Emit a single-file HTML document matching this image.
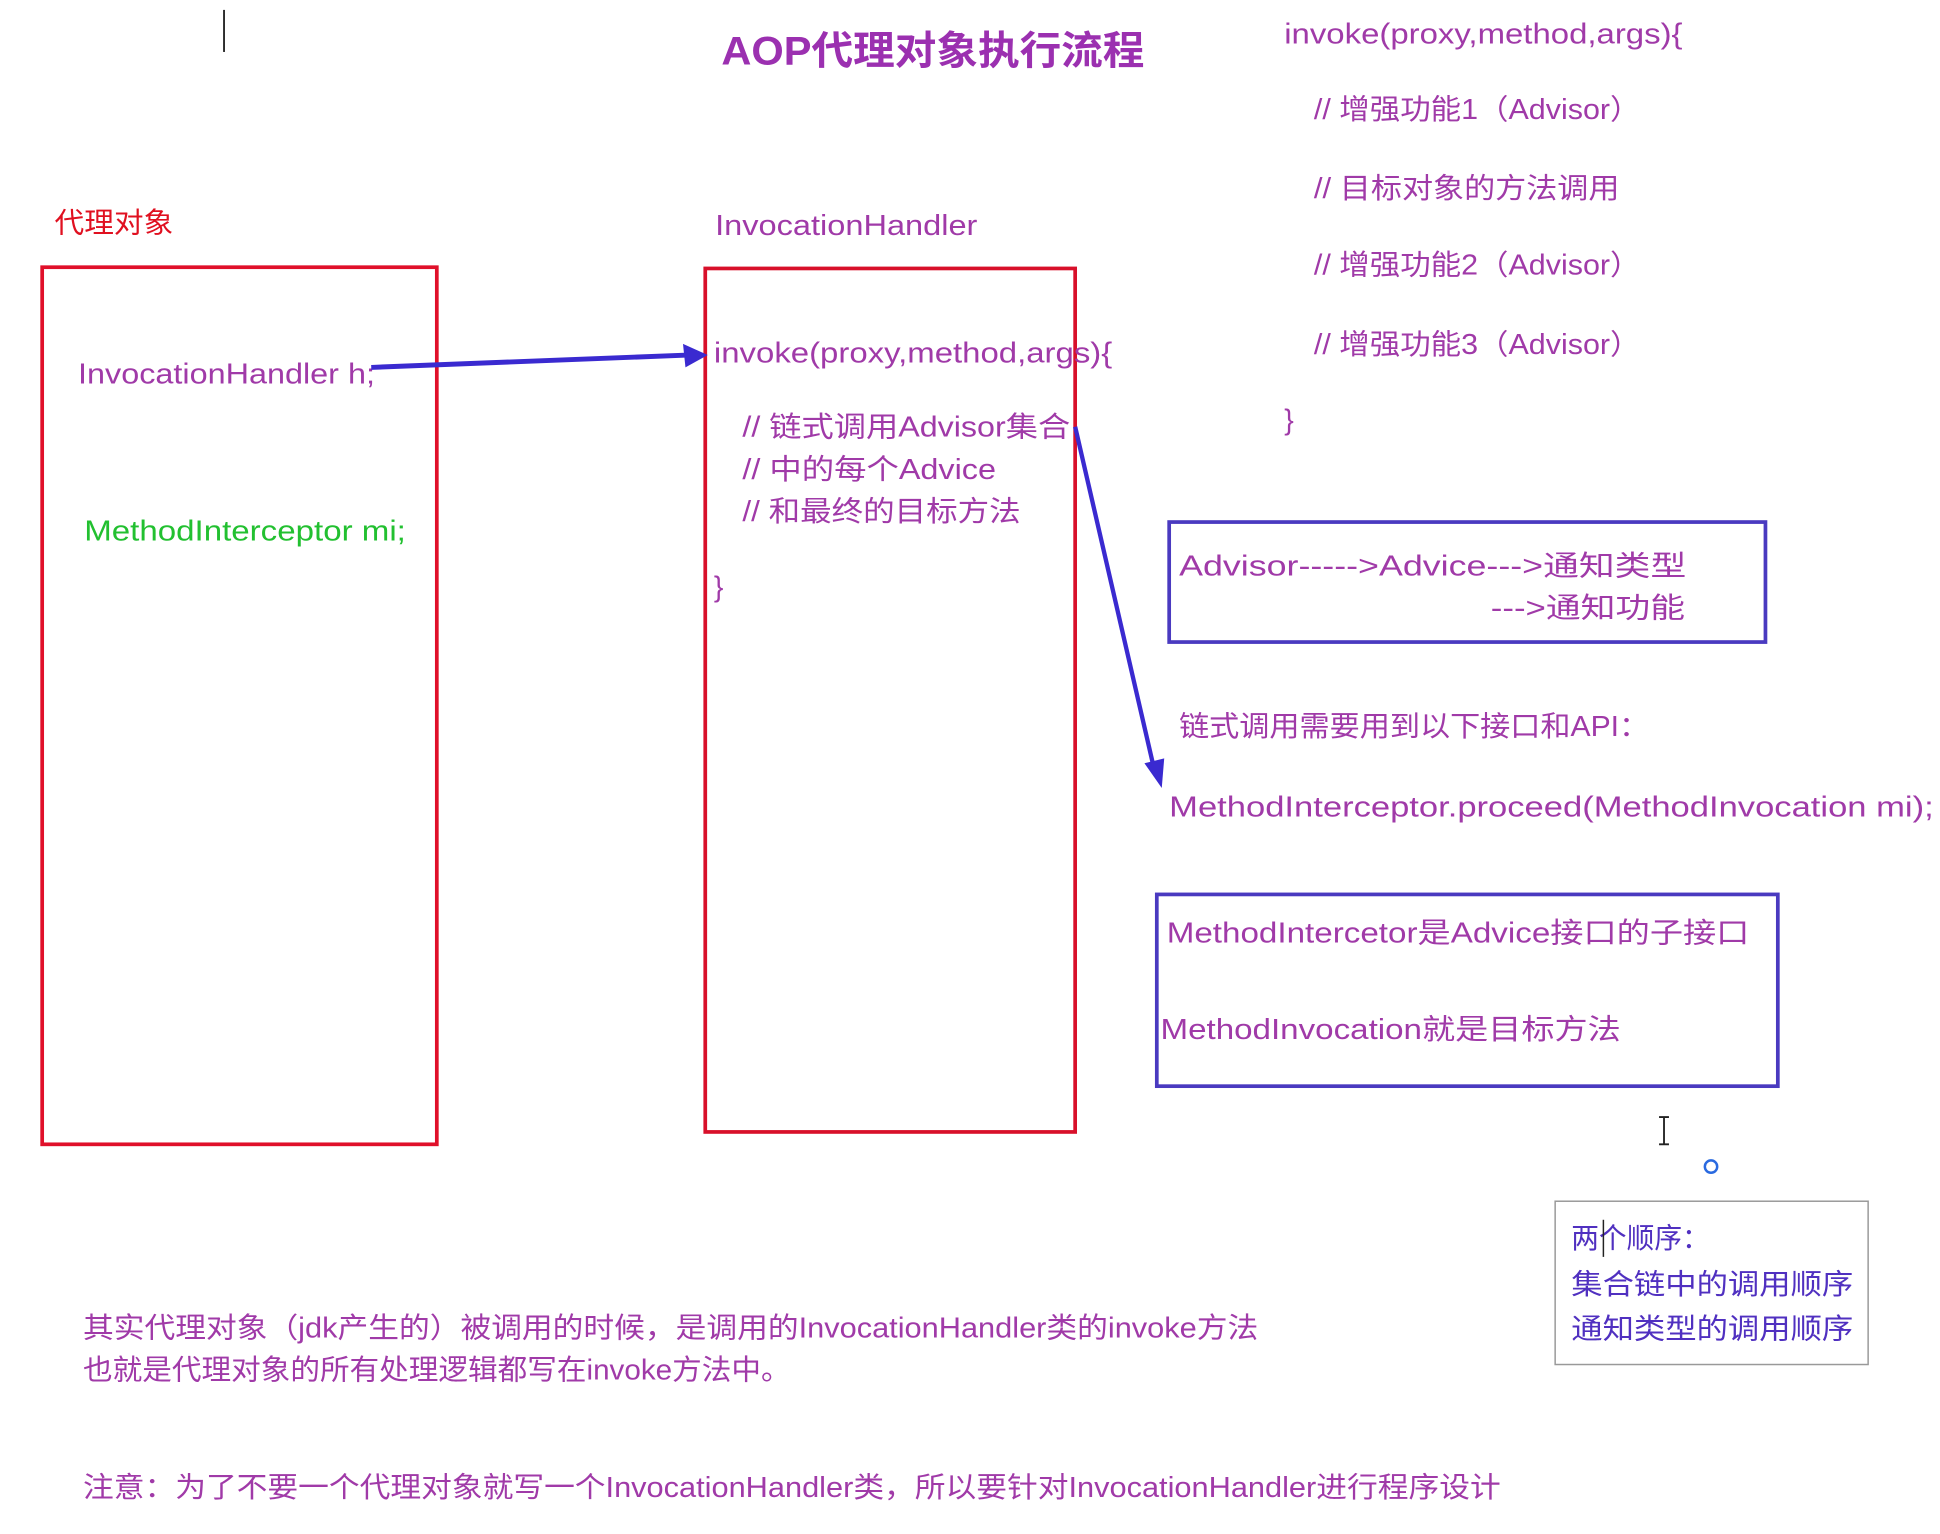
<!DOCTYPE html>
<html><head><meta charset="utf-8"><style>
html,body{margin:0;padding:0;background:#fff;}
svg{display:block}
text{font-family:"Liberation Sans","Noto Sans CJK SC",sans-serif;font-size:23px;fill:#a03aa8}
</style></head><body>
<svg width="1940" height="1534" viewBox="0 0 1568 1240" xmlns="http://www.w3.org/2000/svg">
<line x1="181" y1="8" x2="181" y2="42" stroke="#222" stroke-width="1.5"/>
<text x="583" y="52" style="font-size:32px;font-weight:bold;fill:#9b30b0" textLength="342" lengthAdjust="spacingAndGlyphs">AOP代理对象执行流程</text>

<text x="1038" y="35" textLength="322" lengthAdjust="spacingAndGlyphs">invoke(proxy,method,args){</text>
<text x="1062" y="96" textLength="264" lengthAdjust="spacingAndGlyphs">// 增强功能1（Advisor）</text>
<text x="1062" y="160" textLength="247" lengthAdjust="spacingAndGlyphs">// 目标对象的方法调用</text>
<text x="1062" y="222" textLength="264" lengthAdjust="spacingAndGlyphs">// 增强功能2（Advisor）</text>
<text x="1062" y="286" textLength="264" lengthAdjust="spacingAndGlyphs">// 增强功能3（Advisor）</text>
<text x="1038" y="347">}</text>

<text x="44" y="188" style="fill:#e01020" textLength="96" lengthAdjust="spacingAndGlyphs">代理对象</text>
<text x="578" y="190" textLength="212" lengthAdjust="spacingAndGlyphs">InvocationHandler</text>

<rect x="34" y="216" width="319" height="709" fill="none" stroke="#e0102a" stroke-width="3"/>
<rect x="570" y="217" width="299" height="698" fill="none" stroke="#d8102a" stroke-width="3"/>

<text x="63" y="310" textLength="240" lengthAdjust="spacingAndGlyphs">InvocationHandler h;</text>
<text x="68" y="437" style="fill:#22c030" textLength="260" lengthAdjust="spacingAndGlyphs">MethodInterceptor mi;</text>

<text x="577" y="293" textLength="322" lengthAdjust="spacingAndGlyphs">invoke(proxy,method,args){</text>
<text x="600" y="353" textLength="265" lengthAdjust="spacingAndGlyphs">// 链式调用Advisor集合</text>
<text x="600" y="387" textLength="205" lengthAdjust="spacingAndGlyphs">// 中的每个Advice</text>
<text x="600" y="421" textLength="225" lengthAdjust="spacingAndGlyphs">// 和最终的目标方法</text>
<text x="577" y="482">}</text>

<path d="M300 297 L556 287" stroke="#3a2ad0" stroke-width="4" fill="none"/>
<polygon points="572,287 552,278 554,297" fill="#3a2ad0"/>
<path d="M869 345 L932 618" stroke="#3a2ad0" stroke-width="3.5" fill="none"/>
<polygon points="939,637 925,617 941,613" fill="#3a2ad0"/>

<rect x="945" y="422" width="482" height="97" fill="none" stroke="#4a3ac0" stroke-width="3"/>
<text x="953" y="465" textLength="410" lengthAdjust="spacingAndGlyphs">Advisor-----&gt;Advice---&gt;通知类型</text>
<text x="1205" y="499" textLength="157" lengthAdjust="spacingAndGlyphs">---&gt;通知功能</text>

<text x="953" y="595" textLength="380" lengthAdjust="spacingAndGlyphs">链式调用需要用到以下接口和API：</text>
<text x="945" y="660" textLength="618" lengthAdjust="spacingAndGlyphs">MethodInterceptor.proceed(MethodInvocation mi);</text>

<rect x="935" y="723" width="502" height="155" fill="none" stroke="#4a3ac0" stroke-width="3"/>
<text x="943" y="762" textLength="471" lengthAdjust="spacingAndGlyphs">MethodIntercetor是Advice接口的子接口</text>
<text x="938" y="840" textLength="372" lengthAdjust="spacingAndGlyphs">MethodInvocation就是目标方法</text>

<path d="M1341 903 h8 M1345 903 v22 M1341 925 h8" stroke="#222" stroke-width="1.5"/>
<circle cx="1383" cy="943" r="5" fill="none" stroke="#2a6ae0" stroke-width="2"/>

<rect x="1257" y="971" width="253" height="132" fill="none" stroke="#999" stroke-width="1.2"/>
<text x="1270" y="1009" style="fill:#5030c0" textLength="112" lengthAdjust="spacingAndGlyphs">两个顺序：</text>
<line x1="1296" y1="986" x2="1296" y2="1016" stroke="#222" stroke-width="1.2"/>
<text x="1270" y="1046" style="fill:#5030c0" textLength="228" lengthAdjust="spacingAndGlyphs">集合链中的调用顺序</text>
<text x="1270" y="1082" style="fill:#5030c0" textLength="228" lengthAdjust="spacingAndGlyphs">通知类型的调用顺序</text>

<text x="67" y="1081" textLength="950" lengthAdjust="spacingAndGlyphs">其实代理对象（jdk产生的）被调用的时候，是调用的InvocationHandler类的invoke方法</text>
<text x="67" y="1115" textLength="572" lengthAdjust="spacingAndGlyphs">也就是代理对象的所有处理逻辑都写在invoke方法中。</text>
<text x="67" y="1210" textLength="1146" lengthAdjust="spacingAndGlyphs">注意：为了不要一个代理对象就写一个InvocationHandler类，所以要针对InvocationHandler进行程序设计</text>
</svg>
</body></html>
